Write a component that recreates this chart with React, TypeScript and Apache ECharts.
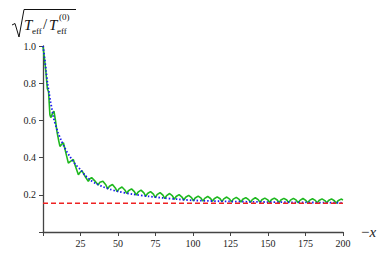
import React, { useEffect, useRef } from "react";
import * as echarts from "echarts";

const xTicks = [0, 25, 50, 75, 100, 125, 150, 175, 200];
const yTicks = [0, 0.2, 0.4, 0.6, 0.8, 1.0];

const blueX = [0, 1, 2, 3, 4, 5, 6, 7, 8, 9, 10, 12, 14, 16, 18, 20, 22, 25, 28, 31, 35, 40, 45, 50, 60, 70, 80, 90, 100, 125, 150, 175, 200];
const blueY = [1.0, 0.94, 0.87, 0.8, 0.75, 0.7, 0.66, 0.615, 0.585, 0.56, 0.535, 0.495, 0.46, 0.43, 0.405, 0.38, 0.36, 0.335, 0.305, 0.283, 0.262, 0.243, 0.229, 0.218, 0.203, 0.192, 0.183, 0.176, 0.17, 0.164, 0.161, 0.159, 0.157];

const greenX = [
  0, 1, 2, 2.9, 3.7, 4.6, 5.2, 6.2, 7.3, 8.3, 9.3, 10.5, 11.3, 12.3, 13.6, 14.8, 16.9, 18.3, 20.2, 21.8, 23.6, 24.6, 25.9, 28, 30.2, 31.2, 32.4, 34.5,
  36.75, 37.95, 39.95, 41.85, 43.1, 44.3, 46.3, 48.2, 49.45, 50.65, 52.65, 54.55, 55.8, 57.0, 59.0, 60.9,
  62.15, 63.35, 65.35, 67.25, 68.5, 69.7, 71.7, 73.6, 74.85, 76.05, 78.05, 79.95, 81.2, 82.4, 84.4, 86.3,
  87.55, 88.75, 90.75, 92.65, 93.9, 95.1, 97.1, 99.0, 100.25, 101.45, 103.45, 105.35, 106.6, 107.8, 109.8, 111.7,
  112.95, 114.15, 116.15, 118.05, 119.3, 120.5, 122.5, 124.4, 125.65, 126.85, 128.85, 130.75, 132.0, 133.2, 135.2, 137.1,
  138.35, 139.55, 141.55, 143.45, 144.7, 145.9, 147.9, 149.8, 151.05, 152.25, 154.25, 156.15, 157.4, 158.6, 160.6, 162.5,
  163.75, 164.95, 166.95, 168.85, 170.1, 171.3, 173.3, 175.2, 176.45, 177.65, 179.65, 181.55, 182.8, 184.0, 186.0, 187.9,
  189.15, 190.35, 192.35, 194.25, 195.5, 196.7, 198.7, 200,
];
const greenY = [
  1.0, 0.93, 0.855, 0.77, 0.755, 0.63, 0.615, 0.635, 0.65, 0.6, 0.54, 0.49, 0.46, 0.47, 0.48, 0.44, 0.37, 0.38, 0.39, 0.35, 0.308, 0.32, 0.33, 0.3, 0.272, 0.285, 0.293, 0.275,
  0.253, 0.268, 0.273, 0.254, 0.232, 0.246, 0.255, 0.237, 0.217, 0.232, 0.242, 0.226, 0.207, 0.222, 0.232, 0.217,
  0.199, 0.214, 0.225, 0.21, 0.192, 0.207, 0.217, 0.204, 0.185, 0.201, 0.212, 0.198, 0.18, 0.196, 0.207, 0.194,
  0.176, 0.191, 0.201, 0.188, 0.172, 0.187, 0.197, 0.185, 0.168, 0.183, 0.193, 0.182, 0.166, 0.181, 0.191, 0.18,
  0.165, 0.179, 0.189, 0.179, 0.163, 0.178, 0.188, 0.177, 0.162, 0.177, 0.186, 0.175, 0.161, 0.176, 0.185, 0.174,
  0.16, 0.174, 0.184, 0.174, 0.159, 0.173, 0.182, 0.173, 0.159, 0.173, 0.182, 0.172, 0.158, 0.172, 0.181, 0.172,
  0.158, 0.171, 0.181, 0.171, 0.157, 0.17, 0.18, 0.17, 0.157, 0.17, 0.179, 0.17, 0.156, 0.169, 0.178, 0.169,
  0.156, 0.169, 0.178, 0.168, 0.155, 0.168, 0.177, 0.172,
];

const redX = [0, 200];
const redY = [0.155, 0.155];

const SERIF = "'Liberation Serif', 'DejaVu Serif', serif";

export default function App() {
  const ref = useRef<HTMLDivElement>(null);
  useEffect(() => {
    if (!ref.current) return;
    const chart = echarts.init(ref.current, undefined, { renderer: "svg" });
    const zip = (xs: number[], ys: number[]) => xs.map((x, i) => [x, ys[i]]);
    const axisCommon = {
      axisLine: { show: true, lineStyle: { color: "#444", width: 1.3 } },
      axisTick: { show: true, length: 4, lineStyle: { color: "#444", width: 1 } },
      splitLine: { show: false },
    };
    chart.setOption({
      animation: false,
      grid: { left: 43, right: 47, top: 46, bottom: 28 },
      xAxis: {
        type: "value",
        min: xTicks[0],
        max: xTicks[xTicks.length - 1],
        interval: 25,
        ...axisCommon,
        axisLabel: {
          margin: 6,
          fontFamily: SERIF,
          fontSize: 10,
          color: "#222",
          formatter: (v: number) => (v === 0 ? "" : String(v)),
        },
        name: "{a|−}{b|x}",
        nameLocation: "end",
        nameGap: 18,
        nameTextStyle: {
          rich: {
            a: { fontFamily: SERIF, fontSize: 15, color: "#222" },
            b: { fontFamily: SERIF, fontSize: 15, fontStyle: "italic", color: "#222" },
          },
        },
      },
      yAxis: {
        type: "value",
        min: yTicks[0],
        max: yTicks[yTicks.length - 1],
        interval: 0.2,
        ...axisCommon,
        axisLabel: {
          margin: 7,
          fontFamily: SERIF,
          fontSize: 10,
          color: "#222",
          formatter: (v: number) => (v === 0 ? "" : v.toFixed(1)),
        },
      },
      graphic: [
        {
          type: "polyline",
          shape: { points: [[12, 25], [15, 23.5], [19, 37], [24, 9.5], [76, 9.5]] },
          style: { stroke: "#111", lineWidth: 1, fill: null },
        },
        { type: "text", x: 24, y: 24.5, style: { text: "T", font: `italic 15px ${SERIF}`, fill: "#111", verticalAlign: "middle" } },
        { type: "text", x: 32, y: 31, style: { text: "eff", font: `9px ${SERIF}`, fill: "#111", verticalAlign: "middle" } },
        { type: "text", x: 43, y: 24, style: { text: "/", font: `15px ${SERIF}`, fill: "#111", verticalAlign: "middle" } },
        { type: "text", x: 49, y: 24.5, style: { text: "T", font: `italic 15px ${SERIF}`, fill: "#111", verticalAlign: "middle" } },
        { type: "text", x: 57, y: 31, style: { text: "eff", font: `9px ${SERIF}`, fill: "#111", verticalAlign: "middle" } },
        { type: "text", x: 59, y: 17, style: { text: "(0)", font: `9px ${SERIF}`, fill: "#111", verticalAlign: "middle" } },
      ],
      series: [
        {
          type: "line",
          data: zip(greenX, greenY),
          showSymbol: false,
          lineStyle: { color: "#1fb81f", width: 1.6, type: "solid" },
          z: 2,
        },
        {
          type: "line",
          data: zip(blueX, blueY),
          showSymbol: false,
          smooth: 0.3,
          lineStyle: { color: "#1a1aee", width: 1.8, type: [1.5, 2] },
          z: 3,
        },
        {
          type: "line",
          data: zip(redX, redY),
          showSymbol: false,
          lineStyle: { color: "#ee2222", width: 1.5, type: [5, 3] },
          z: 4,
        },
      ],
    });
    return () => chart.dispose();
  }, []);
  return <div ref={ref} style={{ position: "fixed", left: 0, top: 0, width: 390, height: 260, background: "#fff" }} />;
}
